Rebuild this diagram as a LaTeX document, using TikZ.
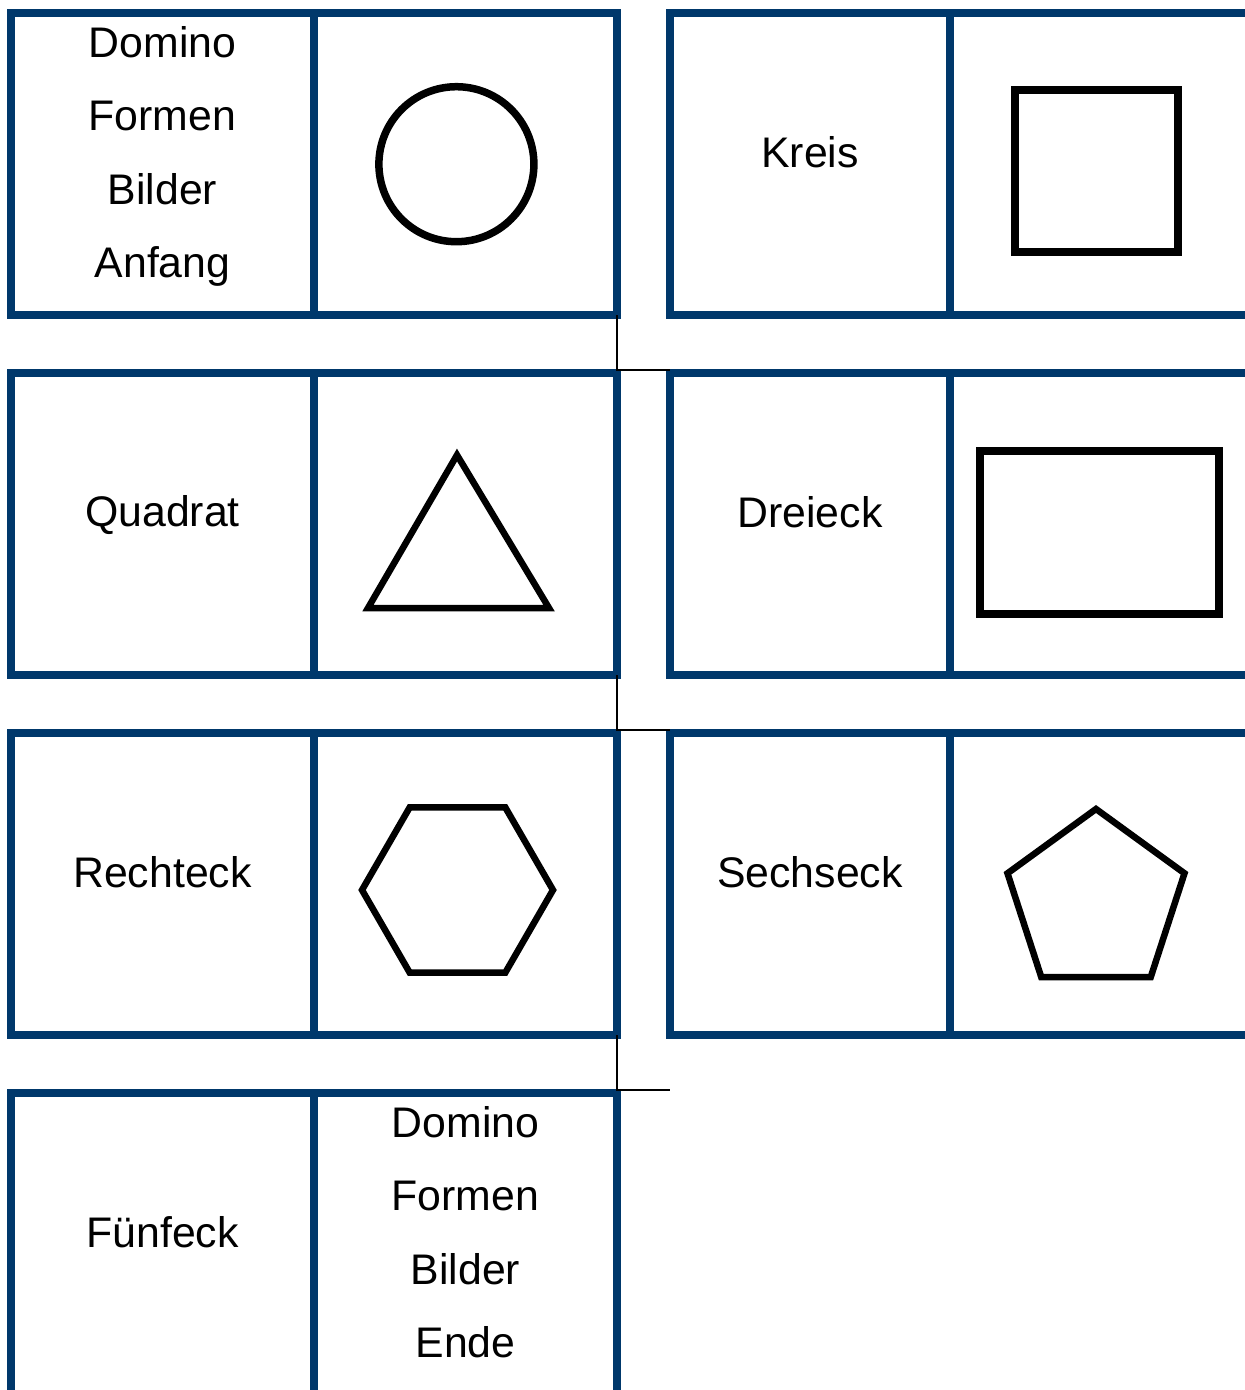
\documentclass[tikz,border=0pt]{standalone}
\usepackage{fontspec}
\setmainfont{Liberation Sans}
\usetikzlibrary{positioning}
\definecolor{dominoblue}{RGB}{0,56,107}

\begin{document}
\begin{tikzpicture}[
  x=1pt, y=-1pt,
  node distance=0pt,
  half/.style={draw=dominoblue,line width=8pt,minimum height=302pt,minimum width=303pt,inner sep=0pt,outer sep=0pt},
  word/.style={align=center,font=\fontsize{42.8}{73.5}\selectfont},
  figure/.style={black,line width=6.5pt},
  cut/.style={black,line width=1.3pt}
]
\useasboundingbox (0,0) rectangle (1245,1390);
\clip (0,0) rectangle (1245,1390);

\node[half] (a1) at (162.5,164) {};
\node[half,right=of a1] (b1) {};
\node[half,minimum width=280pt,right=53pt of b1] (c1) {};
\node[half,minimum width=326pt,right=of c1] (d1) {};

\node[half,below=58pt of a1] (a2) {};
\node[half,right=of a2] (b2) {};
\node[half,minimum width=280pt,right=53pt of b2] (c2) {};
\node[half,minimum width=326pt,right=of c2] (d2) {};

\node[half,below=58pt of a2] (a3) {};
\node[half,right=of a3] (b3) {};
\node[half,minimum width=280pt,right=53pt of b3] (c3) {};
\node[half,minimum width=326pt,right=of c3] (d3) {};

\node[half,below=58pt of a3] (a4) {};
\node[half,right=of a4] (b4) {};

\node[word] (anfang) at ([yshift=7.5pt]a1.center) {Domino\\Formen\\Bilder\\Anfang};
\node[word] (kreis) at ([yshift=12pt]c1.center) {Kreis};
\node[word] (quadrat) at ([yshift=9pt]a2.center) {Quadrat};
\node[word] (dreieck) at ([yshift=12pt]c2.center) {Dreieck};
\node[word] (rechteck) at ([yshift=12pt]a3.center) {Rechteck};
\node[word] (sechseck) at ([yshift=12pt]c3.center) {Sechseck};
\node[word] (fuenfeck) at ([yshift=12pt]a4.center) {Fünfeck};
\node[word] (ende) at ([yshift=12pt]b4.center) {Domino\\Formen\\Bilder\\Ende};

\draw[figure,line width=7.5pt] (456.4,164.2) circle[radius=77.5];
\draw[figure,line width=8pt] (1015,90) rectangle (1178,252);
\draw[figure] (457,455) -- (549,608) -- (368,608) -- cycle;
\draw[figure,line width=8pt] (980,451) rectangle (1219,614);
\draw[figure] (362,890) -- (409.75,807.3) -- (505.25,807.3) -- (553,890) -- (505.25,972.7) -- (409.75,972.7) -- cycle;
\draw[figure] (1096,809) -- (1184.5,873.3) -- (1150.7,977.2) -- (1041.3,977.2) -- (1007.5,873.3) -- cycle;

\coordinate (tail) at (670,1090);
\draw[cut] (b1.south east) |- ([yshift=3pt]c2.north west);
\draw[cut] (b2.south east) |- ([yshift=3pt]c3.north west);
\draw[cut] (b3.south east) |- (tail);
\end{tikzpicture}
\end{document}
